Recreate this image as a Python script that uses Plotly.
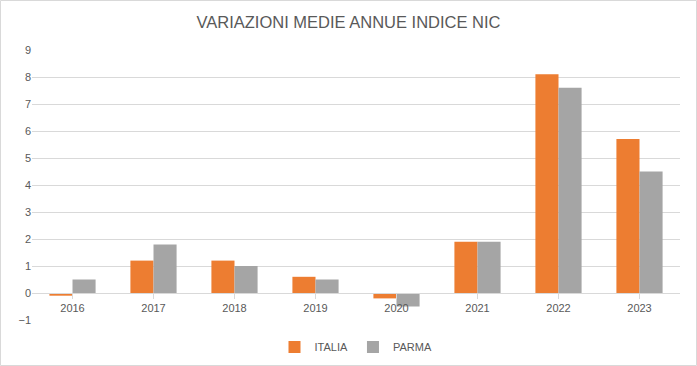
import plotly.graph_objects as go

years = ["2016", "2017", "2018", "2019", "2020", "2021", "2022", "2023"]
italia = [-0.1, 1.2, 1.2, 0.6, -0.2, 1.9, 8.1, 5.7]
parma = [0.5, 1.8, 1.0, 0.5, -0.5, 1.9, 7.6, 4.5]
y_ticks = list(range(-1, 10))

W, H = 697, 366
ml, mr, mt, mb = 32, 17, 50, 46
pw, ph = W - ml - mr, H - mt - mb

fig = go.Figure()
fig.add_trace(go.Bar(x=years, y=italia, name="ITALIA", marker=dict(color="#ED7D31", line=dict(width=0))))
fig.add_trace(go.Bar(x=years, y=parma, name="PARMA", marker=dict(color="#A5A5A5", line=dict(width=0))))

txt = "#595959"
fig.update_layout(
    template="none",
    width=W, height=H,
    margin=dict(l=ml, r=mr, t=mt, b=mb, autoexpand=False),
    paper_bgcolor="white", plot_bgcolor="white",
    barmode="group", bargap=0.43, bargroupgap=0,
    title=dict(text="VARIAZIONI MEDIE ANNUE INDICE NIC", x=0.5, xanchor="center", y=0.94, yanchor="middle",
               font=dict(family="Liberation Sans, Arial", size=16.5, color=txt)),
    font=dict(family="Liberation Sans, Arial", size=11, color=txt),
    legend=dict(orientation="h", x=0.5, xanchor="center", y=-0.1, yanchor="middle",
                font=dict(size=11, color=txt), itemwidth=30, traceorder="normal"),
    yaxis=dict(range=[-1, 9], tickvals=y_ticks, showgrid=True, gridcolor="#D9D9D9", gridwidth=1,
               zeroline=False, showline=False, ticks="", automargin=False,
               tickfont=dict(size=11, color=txt)),
    xaxis=dict(anchor="free", position=0.1, showline=True, linecolor="#D9D9D9", linewidth=1,
               ticks="outside", tickson="boundaries", ticklen=5, tickcolor="#D9D9D9",
               showgrid=False, automargin=False, tickfont=dict(size=11, color=txt)),
    shapes=[dict(type="rect", xref="paper", yref="paper",
                 x0=(-ml + 0.5) / pw, x1=(pw + mr - 0.5) / pw,
                 y0=(-mb + 0.5) / ph, y1=(ph + mt - 0.5) / ph,
                 line=dict(color="#D9D9D9", width=1), layer="below")],
)

fig.write_html("out.html", config={"displayModeBar": False},
               post_script="document.body.style.margin='0';document.body.style.overflow='hidden';")
